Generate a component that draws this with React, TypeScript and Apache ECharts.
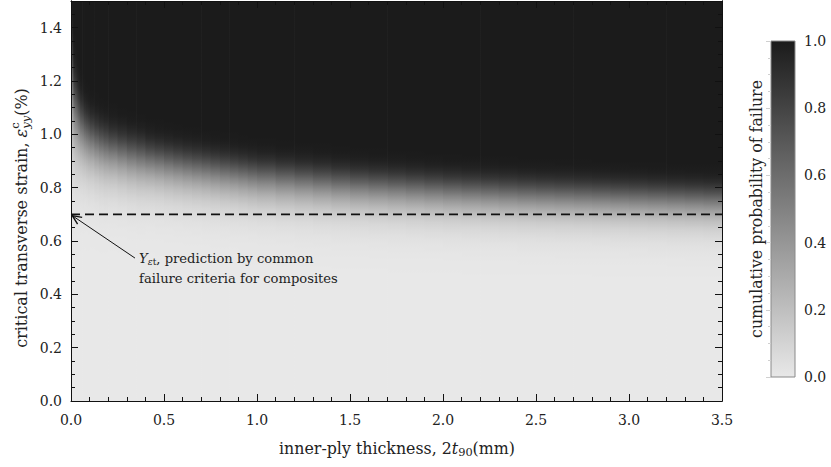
import { useEffect, useRef } from 'react';
import * as echarts from 'echarts';

// ---------- data ----------
// Each heat-map column starts at colStart[i] and ends at colStart[i + 1] (the last one ends at X_MAX)
const colStart = [
  0, 0.005, 0.01, 0.015, 0.02, 0.03, 0.04, 0.05, 0.06, 0.07, 0.08, 0.09, 0.1, 0.125, 0.15, 0.175, 0.2,
  0.25, 0.3, 0.35, 0.4, 0.45, 0.5, 0.55, 0.6, 0.65, 0.7, 0.75, 0.8, 0.85, 0.9, 0.95, 1.0,
  1.1, 1.2, 1.3, 1.4, 1.5, 1.6, 1.7, 1.8, 1.9, 2.0, 2.1, 2.2, 2.3, 2.4, 2.5, 2.6, 2.7, 2.8, 2.9, 3.0, 3.1, 3.2, 3.3, 3.4,
];
// strain (%) at which the cumulative probability of failure reaches 0.5 in that column
const medianStrain = [
  1.24, 1.15, 1.1, 1.07, 1.055, 1.035, 1.015, 1.0, 0.99, 0.98, 0.972, 0.965, 0.958, 0.945, 0.935, 0.927, 0.92,
  0.91, 0.9, 0.892, 0.885, 0.879, 0.872, 0.866, 0.86, 0.855, 0.85, 0.845, 0.84, 0.836, 0.831, 0.826, 0.821,
  0.814, 0.808, 0.802, 0.796, 0.791, 0.787, 0.783, 0.779, 0.775, 0.771, 0.768, 0.765, 0.762, 0.759, 0.757, 0.755, 0.753, 0.751, 0.749, 0.747, 0.745, 0.743, 0.741, 0.739,
];
// Weibull shape (steepness of the dark/light transition) in that column
const weibullShape = [
  5, 7, 8, 8.5, 8.5, 9, 9.5, 10, 10, 10.5, 10.5, 10.5, 11, 11, 11, 11, 11.5,
  11.5, 11.5, 11.5, 12, 12, 12, 12, 12, 12, 12, 12, 12, 12, 12, 12, 12,
  12, 12, 12, 12, 12, 12, 12, 12, 12, 12, 12, 12, 12, 12, 12, 12, 12, 12, 12, 12, 12, 12, 12, 12,
];
const X_MAX = 3.5;
const Y_MAX = 1.5;
const xTickStep = 0.5;
const yTickStep = 0.2;
const colorbarTickStep = 0.2;
const criterionStrain = 0.7; // Y_eps_t
const criterionLine = [[0, criterionStrain], [X_MAX, criterionStrain]];
const arrowTip = [0.007, 0.695];
const arrowTail = [0.344, 0.536];
const annotationAnchor = [0.366, 0.536];
const annotationLine1 = ', prediction by common';
const annotationLine2 = 'failure criteria for composites';
const colorbarTitle = 'cumulative probability of failure';

// ---------- styling ----------
const FONT = 'DejaVu Serif, serif';
const LIGHT = 232;
const DARK = 27;
const gray = (p: number) => {
  const v = Math.round(LIGHT + (DARK - LIGHT) * p);
  return `rgb(${v},${v},${v})`;
};

let measureCtx: CanvasRenderingContext2D | null = null;
function textWidth(t: string, size: number, italic = false) {
  if (!measureCtx) measureCtx = document.createElement('canvas').getContext('2d');
  measureCtx!.font = `${italic ? 'italic ' : ''}${size}px ${FONT}`;
  return measureCtx!.measureText(t).width;
}
type Run = { t: string; size: number; italic?: boolean; dy?: number; noAdvance?: boolean };
function runsWidth(runs: Run[]) {
  let x = 0;
  let pending = 0;
  runs.forEach((r) => {
    const w = textWidth(r.t, r.size, r.italic);
    if (r.noAdvance) pending = w;
    else {
      x += Math.max(w, pending);
      pending = 0;
    }
  });
  return x;
}
function scaleRuns(runs: Run[], k: number): Run[] {
  return runs.map((r) => ({ ...r, size: r.size * k, dy: (r.dy || 0) * k }));
}
function fitRuns(runs: Run[], target: number) {
  return scaleRuns(runs, target / runsWidth(runs));
}
function buildRuns(runs: Run[], x0: number, y0: number) {
  const children: any[] = [];
  let x = x0;
  let pending = 0;
  runs.forEach((r) => {
    const w = textWidth(r.t, r.size, r.italic);
    children.push({
      type: 'text',
      x,
      y: y0 + (r.dy || 0),
      style: {
        text: r.t,
        fontSize: r.size,
        fontFamily: FONT,
        fontStyle: r.italic ? 'italic' : 'normal',
        fill: '#222',
        align: 'left',
        verticalAlign: 'middle',
      },
    });
    if (r.noAdvance) pending = w;
    else {
      x += Math.max(w, pending);
      pending = 0;
    }
  });
  return children;
}

const isMultiple = (v: number, step: number) => Math.abs(v / step - Math.round(v / step)) < 1e-6;

export default function App() {
  const ref = useRef<HTMLDivElement>(null);
  useEffect(() => {
    document.body.style.margin = '0';
    const chart = echarts.init(ref.current!, undefined, { renderer: 'svg' });

    const columns = colStart.map((x0, i) => [x0, i + 1 < colStart.length ? colStart[i + 1] : X_MAX, medianStrain[i], weibullShape[i]]);

    const tickFont = 14;
    const axisLineStyle = { color: '#111', width: 1 };
    const baseAxis = {
      z: 10,
      axisLine: { show: true, onZero: false, lineStyle: axisLineStyle },
      splitLine: { show: false },
    };
    const labelStyle = { fontSize: tickFont, fontFamily: FONT, color: '#222' };

    const yTitleRuns = fitRuns(
      [
        { t: 'critical transverse strain, ', size: 16 },
        { t: 'ε', size: 16, italic: true },
        { t: 'c', size: 11.5, dy: -6, noAdvance: true },
        { t: 'yy', size: 11.5, italic: true, dy: 5 },
        { t: '(%)', size: 16 },
      ],
      260,
    );
    const xTitleRuns = fitRuns(
      [
        { t: 'inner-ply thickness, 2', size: 16 },
        { t: 't', size: 16, italic: true },
        { t: '90', size: 11.5, dy: 4 },
        { t: '(mm)', size: 16 },
      ],
      236,
    );
    const yW = runsWidth(yTitleRuns);
    const xW = runsWidth(xTitleRuns);
    const annK = 199 / textWidth(annotationLine2, 13);
    const annSize = 13 * annK;
    const cbTitleSize = (16 * 258) / textWidth(colorbarTitle, 16);

    const option: any = {
      animation: false,
      backgroundColor: '#fff',
      grid: [
        { left: 71, top: 1, width: 651, height: 400 },
        { left: 771, top: 41, width: 24, height: 336 },
      ],
      xAxis: [
        {
          ...baseAxis, gridIndex: 0, type: 'value', position: 'bottom', min: 0, max: X_MAX, interval: xTickStep,
          axisTick: { show: true, inside: true, length: 7, lineStyle: axisLineStyle },
          minorTick: { show: true, splitNumber: 5, length: 4, lineStyle: axisLineStyle },
          axisLabel: { show: true, margin: 12, ...labelStyle, formatter: (v: number) => v.toFixed(1) },
        },
        {
          ...baseAxis, gridIndex: 0, type: 'value', position: 'top', min: 0, max: X_MAX, interval: xTickStep,
          axisTick: { show: true, inside: true, length: 7, lineStyle: axisLineStyle },
          minorTick: { show: true, splitNumber: 5, length: 4, lineStyle: axisLineStyle },
          axisLabel: { show: false },
        },
        { gridIndex: 1, type: 'value', min: 0, max: 1, show: false },
      ],
      yAxis: [
        {
          ...baseAxis, gridIndex: 0, type: 'value', position: 'left', min: 0, max: Y_MAX, interval: yTickStep,
          axisTick: { show: true, inside: true, length: 7, lineStyle: axisLineStyle },
          axisLabel: { show: true, margin: 9, ...labelStyle, formatter: (v: number) => (isMultiple(v, yTickStep) ? v.toFixed(1) : '') },
        },
        {
          ...baseAxis, gridIndex: 0, type: 'value', position: 'left', min: 0, max: Y_MAX, interval: 0.05,
          axisTick: { show: true, inside: true, length: 4, lineStyle: axisLineStyle },
          axisLabel: { show: false },
        },
        {
          ...baseAxis, gridIndex: 0, type: 'value', position: 'right', min: 0, max: Y_MAX, interval: yTickStep,
          axisTick: { show: true, inside: true, length: 7, lineStyle: axisLineStyle },
          axisLabel: { show: false },
        },
        {
          ...baseAxis, gridIndex: 0, type: 'value', position: 'right', min: 0, max: Y_MAX, interval: 0.05,
          axisTick: { show: true, inside: true, length: 4, lineStyle: axisLineStyle },
          axisLabel: { show: false },
        },
        {
          gridIndex: 1, type: 'value', position: 'right', min: 0, max: 1, interval: colorbarTickStep, z: 10,
          axisLine: { show: false },
          splitLine: { show: false },
          axisTick: { show: true, inside: true, length: 5, lineStyle: { color: '#d0d0d0', width: 1 } },
          minorTick: { show: true, splitNumber: 4, length: 3, lineStyle: { color: '#d0d0d0', width: 1 } },
          axisLabel: { show: true, margin: 9, ...labelStyle, formatter: (v: number) => v.toFixed(1) },
        },
      ],
      series: [
        {
          type: 'custom',
          xAxisIndex: 0,
          yAxisIndex: 0,
          z: 1,
          clip: true,
          data: columns,
          encode: { x: [0, 1], y: 2 },
          renderItem: (_params: any, api: any) => {
            const x0 = api.value(0);
            const x1 = api.value(1);
            const med = api.value(2);
            const m = api.value(3);
            const tl = api.coord([x0, Y_MAX]);
            const br = api.coord([x1, 0]);
            const stops: any[] = [];
            const N = 150;
            for (let k = 0; k <= N; k++) {
              const eps = Y_MAX - (k / N) * Y_MAX;
              const p = eps <= 0 ? 0 : 1 - Math.exp(-Math.LN2 * Math.pow(eps / med, m));
              stops.push({ offset: k / N, color: gray(p) });
            }
            return {
              type: 'rect',
              shape: { x: tl[0], y: tl[1], width: br[0] - tl[0] + 0.7, height: br[1] - tl[1] },
              style: { fill: new echarts.graphic.LinearGradient(0, 0, 0, 1, stops) },
            };
          },
        },
        {
          type: 'line',
          xAxisIndex: 0,
          yAxisIndex: 0,
          z: 3,
          data: criterionLine,
          symbol: 'none',
          silent: true,
          lineStyle: { color: '#111', width: 1.8, type: [9, 5] },
        },
        {
          type: 'custom',
          xAxisIndex: 0,
          yAxisIndex: 0,
          z: 4,
          clip: false,
          data: [[arrowTip[0], arrowTip[1], arrowTail[0], arrowTail[1]]],
          renderItem: (_params: any, api: any) => {
            const tip = api.coord([api.value(0), api.value(1)]);
            const tail = api.coord([api.value(2), api.value(3)]);
            const dx = tip[0] - tail[0];
            const dy = tip[1] - tail[1];
            const len = Math.hypot(dx, dy);
            const ux = dx / len;
            const uy = dy / len;
            const L = 10;
            const a = (24 * Math.PI) / 180;
            const rot = (c: number, s: number) => [ux * c - uy * s, ux * s + uy * c];
            const r1 = rot(Math.cos(a), Math.sin(a));
            const r2 = rot(Math.cos(-a), Math.sin(-a));
            const anchor = api.coord(annotationAnchor);
            const line1: Run[] = [
              { t: 'Y', size: annSize, italic: true },
              { t: 'ε', size: annSize * 0.7, italic: true, dy: 3 },
              { t: 't', size: annSize * 0.7, dy: 3 },
              { t: annotationLine1, size: annSize },
            ];
            const line2: Run[] = [{ t: annotationLine2, size: annSize }];
            return {
              type: 'group',
              children: [
                { type: 'line', shape: { x1: tail[0], y1: tail[1], x2: tip[0], y2: tip[1] }, style: { stroke: '#111', lineWidth: 1 } },
                {
                  type: 'polyline',
                  shape: { points: [[tip[0] - r1[0] * L, tip[1] - r1[1] * L], tip, [tip[0] - r2[0] * L, tip[1] - r2[1] * L]] },
                  style: { stroke: '#111', lineWidth: 1.4, fill: 'none' },
                },
                ...buildRuns(line1, anchor[0], anchor[1]),
                ...buildRuns(line2, anchor[0], anchor[1] + 20),
              ],
            };
          },
        },
        {
          type: 'custom',
          xAxisIndex: 2,
          yAxisIndex: 4,
          z: 1,
          data: [[0, 1]],
          renderItem: (_params: any, api: any) => {
            const tl = api.coord([0, 1]);
            const br = api.coord([1, 0]);
            return {
              type: 'rect',
              shape: { x: tl[0], y: tl[1], width: br[0] - tl[0], height: br[1] - tl[1] },
              style: {
                fill: new echarts.graphic.LinearGradient(0, 0, 0, 1, [
                  { offset: 0, color: gray(1) },
                  { offset: 1, color: gray(0) },
                ]),
                stroke: '#8a8a8a',
                lineWidth: 1,
              },
            };
          },
        },
      ],
      graphic: [
        {
          type: 'group',
          x: 21,
          y: 218 + yW / 2,
          rotation: Math.PI / 2,
          children: buildRuns(yTitleRuns, 0, 0),
        },
        {
          type: 'group',
          x: 397 - xW / 2,
          y: 448,
          children: buildRuns(xTitleRuns, 0, 0),
        },
        {
          type: 'text',
          x: 756,
          y: 209,
          rotation: Math.PI / 2,
          style: {
            text: colorbarTitle,
            fontSize: cbTitleSize,
            fontFamily: FONT,
            fill: '#222',
            align: 'center',
            verticalAlign: 'middle',
          },
        },
      ],
    };
    chart.setOption(option);
    return () => chart.dispose();
  }, []);
  return <div ref={ref} style={{ position: 'absolute', left: 0, top: 0, width: 831, height: 467, background: '#fff' }} />;
}
